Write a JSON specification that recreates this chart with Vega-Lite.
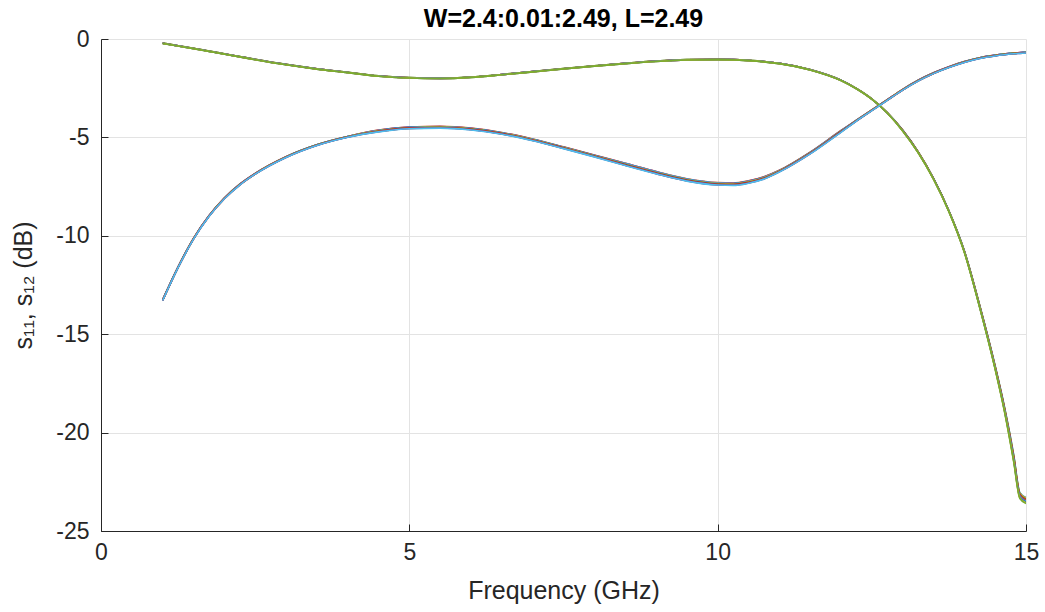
{
  "$schema": "https://vega.github.io/schema/vega-lite/v6.json",
  "width": 925,
  "height": 492,
  "autosize": {"type": "none"},
  "padding": {"left": 101, "top": 39, "right": 19, "bottom": 81},
  "background": "white",
  "title": {"text": "W=2.4:0.01:2.49, L=2.49", "font": "Liberation Sans", "fontSize": 25, "fontWeight": "bold", "color": "#000000", "offset": -4},
  "config": {
    "view": {"stroke": null},
    "axis": {
      "labelFont": "Liberation Sans", "labelFontSize": 23, "labelColor": "#262626",
      "titleFont": "Liberation Sans", "titleFontSize": 25, "titleColor": "#262626", "titleFontWeight": "normal",
      "domainColor": "#262626", "domainWidth": 1, "tickColor": "#262626", "tickSize": -7, "tickWidth": 1,
      "gridColor": "#e3e3e3", "gridWidth": 1,
      "labelExpr": "replace(datum.label, '−', '-')"
    }
  },
  "data": {"values": [
    {"f":1,"b0":-13.25,"b1":-13.25,"b2":-13.26,"b3":-13.26,"b4":-13.27,"b5":-13.27,"b6":-13.28,"b7":-13.28,"b8":-13.29,"b9":-13.29,"a0":-0.21,"a1":-0.21,"a2":-0.21,"a3":-0.22,"a4":-0.22,"a5":-0.22,"a6":-0.22,"a7":-0.23,"a8":-0.23,"a9":-0.23},
    {"f":1.25,"b0":-11.58,"b1":-11.58,"b2":-11.59,"b3":-11.59,"b4":-11.6,"b5":-11.6,"b6":-11.61,"b7":-11.61,"b8":-11.62,"b9":-11.62,"a0":-0.34,"a1":-0.34,"a2":-0.34,"a3":-0.35,"a4":-0.35,"a5":-0.35,"a6":-0.35,"a7":-0.36,"a8":-0.36,"a9":-0.36},
    {"f":1.5,"b0":-10.13,"b1":-10.13,"b2":-10.14,"b3":-10.14,"b4":-10.15,"b5":-10.15,"b6":-10.16,"b7":-10.16,"b8":-10.17,"b9":-10.17,"a0":-0.47,"a1":-0.47,"a2":-0.47,"a3":-0.48,"a4":-0.48,"a5":-0.48,"a6":-0.48,"a7":-0.49,"a8":-0.49,"a9":-0.49},
    {"f":1.75,"b0":-8.98,"b1":-8.98,"b2":-8.99,"b3":-8.99,"b4":-9.0,"b5":-9.0,"b6":-9.01,"b7":-9.01,"b8":-9.02,"b9":-9.02,"a0":-0.61,"a1":-0.61,"a2":-0.61,"a3":-0.62,"a4":-0.62,"a5":-0.62,"a6":-0.62,"a7":-0.63,"a8":-0.63,"a9":-0.63},
    {"f":2,"b0":-8.08,"b1":-8.08,"b2":-8.09,"b3":-8.09,"b4":-8.1,"b5":-8.1,"b6":-8.11,"b7":-8.11,"b8":-8.12,"b9":-8.12,"a0":-0.75,"a1":-0.75,"a2":-0.75,"a3":-0.76,"a4":-0.76,"a5":-0.76,"a6":-0.76,"a7":-0.77,"a8":-0.77,"a9":-0.77},
    {"f":2.25,"b0":-7.38,"b1":-7.38,"b2":-7.39,"b3":-7.39,"b4":-7.4,"b5":-7.4,"b6":-7.41,"b7":-7.41,"b8":-7.42,"b9":-7.42,"a0":-0.89,"a1":-0.89,"a2":-0.89,"a3":-0.9,"a4":-0.9,"a5":-0.9,"a6":-0.9,"a7":-0.91,"a8":-0.91,"a9":-0.91},
    {"f":2.5,"b0":-6.83,"b1":-6.83,"b2":-6.84,"b3":-6.84,"b4":-6.85,"b5":-6.85,"b6":-6.86,"b7":-6.86,"b8":-6.87,"b9":-6.87,"a0":-1.03,"a1":-1.03,"a2":-1.03,"a3":-1.04,"a4":-1.04,"a5":-1.04,"a6":-1.04,"a7":-1.05,"a8":-1.05,"a9":-1.05},
    {"f":3,"b0":-5.98,"b1":-5.98,"b2":-5.99,"b3":-5.99,"b4":-6.0,"b5":-6.0,"b6":-6.01,"b7":-6.01,"b8":-6.02,"b9":-6.02,"a0":-1.29,"a1":-1.29,"a2":-1.29,"a3":-1.3,"a4":-1.3,"a5":-1.3,"a6":-1.3,"a7":-1.31,"a8":-1.31,"a9":-1.31},
    {"f":3.5,"b0":-5.37,"b1":-5.37,"b2":-5.38,"b3":-5.38,"b4":-5.39,"b5":-5.39,"b6":-5.4,"b7":-5.4,"b8":-5.41,"b9":-5.41,"a0":-1.51,"a1":-1.51,"a2":-1.51,"a3":-1.52,"a4":-1.52,"a5":-1.52,"a6":-1.52,"a7":-1.53,"a8":-1.53,"a9":-1.53},
    {"f":4,"b0":-4.95,"b1":-4.95,"b2":-4.96,"b3":-4.96,"b4":-4.97,"b5":-4.97,"b6":-4.98,"b7":-4.98,"b8":-4.99,"b9":-4.99,"a0":-1.69,"a1":-1.69,"a2":-1.69,"a3":-1.7,"a4":-1.7,"a5":-1.7,"a6":-1.7,"a7":-1.71,"a8":-1.71,"a9":-1.71},
    {"f":4.5,"b0":-4.63,"b1":-4.64,"b2":-4.65,"b3":-4.66,"b4":-4.67,"b5":-4.68,"b6":-4.69,"b7":-4.7,"b8":-4.71,"b9":-4.72,"a0":-1.87,"a1":-1.87,"a2":-1.87,"a3":-1.88,"a4":-1.88,"a5":-1.88,"a6":-1.88,"a7":-1.89,"a8":-1.89,"a9":-1.89},
    {"f":5,"b0":-4.47,"b1":-4.48,"b2":-4.49,"b3":-4.5,"b4":-4.51,"b5":-4.52,"b6":-4.53,"b7":-4.54,"b8":-4.55,"b9":-4.56,"a0":-1.96,"a1":-1.96,"a2":-1.96,"a3":-1.97,"a4":-1.97,"a5":-1.97,"a6":-1.97,"a7":-1.98,"a8":-1.98,"a9":-1.98},
    {"f":5.5,"b0":-4.44,"b1":-4.45,"b2":-4.46,"b3":-4.47,"b4":-4.48,"b5":-4.49,"b6":-4.5,"b7":-4.51,"b8":-4.52,"b9":-4.53,"a0":-1.99,"a1":-1.99,"a2":-1.99,"a3":-2.0,"a4":-2.0,"a5":-2.0,"a6":-2.0,"a7":-2.01,"a8":-2.01,"a9":-2.01},
    {"f":6,"b0":-4.53,"b1":-4.54,"b2":-4.55,"b3":-4.56,"b4":-4.57,"b5":-4.58,"b6":-4.59,"b7":-4.6,"b8":-4.61,"b9":-4.62,"a0":-1.93,"a1":-1.93,"a2":-1.93,"a3":-1.94,"a4":-1.94,"a5":-1.94,"a6":-1.94,"a7":-1.95,"a8":-1.95,"a9":-1.95},
    {"f":6.5,"b0":-4.75,"b1":-4.76,"b2":-4.77,"b3":-4.78,"b4":-4.79,"b5":-4.8,"b6":-4.81,"b7":-4.82,"b8":-4.83,"b9":-4.84,"a0":-1.8,"a1":-1.8,"a2":-1.8,"a3":-1.81,"a4":-1.81,"a5":-1.81,"a6":-1.81,"a7":-1.82,"a8":-1.82,"a9":-1.82},
    {"f":7,"b0":-5.08,"b1":-5.09,"b2":-5.1,"b3":-5.11,"b4":-5.12,"b5":-5.13,"b6":-5.14,"b7":-5.15,"b8":-5.16,"b9":-5.17,"a0":-1.65,"a1":-1.65,"a2":-1.65,"a3":-1.66,"a4":-1.66,"a5":-1.66,"a6":-1.66,"a7":-1.67,"a8":-1.67,"a9":-1.67},
    {"f":7.5,"b0":-5.48,"b1":-5.49,"b2":-5.5,"b3":-5.51,"b4":-5.52,"b5":-5.53,"b6":-5.54,"b7":-5.55,"b8":-5.56,"b9":-5.57,"a0":-1.5,"a1":-1.5,"a2":-1.5,"a3":-1.51,"a4":-1.51,"a5":-1.51,"a6":-1.51,"a7":-1.52,"a8":-1.52,"a9":-1.52},
    {"f":8,"b0":-5.9,"b1":-5.91,"b2":-5.92,"b3":-5.93,"b4":-5.94,"b5":-5.95,"b6":-5.96,"b7":-5.97,"b8":-5.98,"b9":-5.99,"a0":-1.36,"a1":-1.36,"a2":-1.36,"a3":-1.37,"a4":-1.37,"a5":-1.37,"a6":-1.37,"a7":-1.38,"a8":-1.38,"a9":-1.38},
    {"f":8.5,"b0":-6.31,"b1":-6.32,"b2":-6.33,"b3":-6.35,"b4":-6.36,"b5":-6.38,"b6":-6.39,"b7":-6.41,"b8":-6.42,"b9":-6.43,"a0":-1.23,"a1":-1.23,"a2":-1.23,"a3":-1.24,"a4":-1.24,"a5":-1.24,"a6":-1.24,"a7":-1.25,"a8":-1.25,"a9":-1.25},
    {"f":9,"b0":-6.73,"b1":-6.74,"b2":-6.75,"b3":-6.77,"b4":-6.78,"b5":-6.8,"b6":-6.81,"b7":-6.83,"b8":-6.84,"b9":-6.85,"a0":-1.12,"a1":-1.12,"a2":-1.12,"a3":-1.13,"a4":-1.13,"a5":-1.13,"a6":-1.13,"a7":-1.14,"a8":-1.14,"a9":-1.14},
    {"f":9.5,"b0":-7.1,"b1":-7.11,"b2":-7.12,"b3":-7.14,"b4":-7.15,"b5":-7.17,"b6":-7.18,"b7":-7.2,"b8":-7.21,"b9":-7.22,"a0":-1.05,"a1":-1.05,"a2":-1.05,"a3":-1.06,"a4":-1.06,"a5":-1.06,"a6":-1.06,"a7":-1.07,"a8":-1.07,"a9":-1.07},
    {"f":10,"b0":-7.3,"b1":-7.31,"b2":-7.32,"b3":-7.34,"b4":-7.35,"b5":-7.37,"b6":-7.38,"b7":-7.4,"b8":-7.41,"b9":-7.42,"a0":-1.03,"a1":-1.03,"a2":-1.03,"a3":-1.04,"a4":-1.04,"a5":-1.04,"a6":-1.04,"a7":-1.05,"a8":-1.05,"a9":-1.05},
    {"f":10.25,"b0":-7.32,"b1":-7.33,"b2":-7.34,"b3":-7.36,"b4":-7.37,"b5":-7.39,"b6":-7.4,"b7":-7.42,"b8":-7.43,"b9":-7.44,"a0":-1.04,"a1":-1.04,"a2":-1.04,"a3":-1.05,"a4":-1.05,"a5":-1.05,"a6":-1.05,"a7":-1.06,"a8":-1.06,"a9":-1.06},
    {"f":10.5,"b0":-7.21,"b1":-7.22,"b2":-7.23,"b3":-7.25,"b4":-7.26,"b5":-7.28,"b6":-7.29,"b7":-7.31,"b8":-7.32,"b9":-7.33,"a0":-1.08,"a1":-1.08,"a2":-1.08,"a3":-1.09,"a4":-1.09,"a5":-1.09,"a6":-1.09,"a7":-1.1,"a8":-1.1,"a9":-1.1},
    {"f":10.75,"b0":-7.0,"b1":-7.01,"b2":-7.02,"b3":-7.04,"b4":-7.05,"b5":-7.07,"b6":-7.08,"b7":-7.1,"b8":-7.11,"b9":-7.12,"a0":-1.14,"a1":-1.14,"a2":-1.14,"a3":-1.15,"a4":-1.15,"a5":-1.15,"a6":-1.15,"a7":-1.16,"a8":-1.16,"a9":-1.16},
    {"f":11,"b0":-6.67,"b1":-6.68,"b2":-6.69,"b3":-6.7,"b4":-6.71,"b5":-6.72,"b6":-6.73,"b7":-6.74,"b8":-6.75,"b9":-6.76,"a0":-1.23,"a1":-1.23,"a2":-1.23,"a3":-1.24,"a4":-1.24,"a5":-1.24,"a6":-1.24,"a7":-1.25,"a8":-1.25,"a9":-1.25},
    {"f":11.5,"b0":-5.75,"b1":-5.76,"b2":-5.77,"b3":-5.78,"b4":-5.79,"b5":-5.8,"b6":-5.81,"b7":-5.82,"b8":-5.83,"b9":-5.84,"a0":-1.55,"a1":-1.55,"a2":-1.55,"a3":-1.56,"a4":-1.56,"a5":-1.56,"a6":-1.56,"a7":-1.57,"a8":-1.57,"a9":-1.57},
    {"f":12,"b0":-4.65,"b1":-4.66,"b2":-4.67,"b3":-4.68,"b4":-4.69,"b5":-4.7,"b6":-4.71,"b7":-4.72,"b8":-4.73,"b9":-4.74,"a0":-2.09,"a1":-2.09,"a2":-2.09,"a3":-2.1,"a4":-2.1,"a5":-2.1,"a6":-2.1,"a7":-2.11,"a8":-2.11,"a9":-2.11},
    {"f":12.25,"b0":-4.13,"b1":-4.13,"b2":-4.14,"b3":-4.14,"b4":-4.15,"b5":-4.15,"b6":-4.16,"b7":-4.16,"b8":-4.17,"b9":-4.17,"a0":-2.51,"a1":-2.51,"a2":-2.51,"a3":-2.52,"a4":-2.52,"a5":-2.52,"a6":-2.52,"a7":-2.53,"a8":-2.53,"a9":-2.53},
    {"f":12.5,"b0":-3.6,"b1":-3.6,"b2":-3.61,"b3":-3.61,"b4":-3.62,"b5":-3.62,"b6":-3.63,"b7":-3.63,"b8":-3.64,"b9":-3.64,"a0":-3.04,"a1":-3.04,"a2":-3.04,"a3":-3.05,"a4":-3.05,"a5":-3.05,"a6":-3.05,"a7":-3.06,"a8":-3.06,"a9":-3.06},
    {"f":12.75,"b0":-3.08,"b1":-3.08,"b2":-3.09,"b3":-3.09,"b4":-3.1,"b5":-3.1,"b6":-3.11,"b7":-3.11,"b8":-3.12,"b9":-3.12,"a0":-3.74,"a1":-3.74,"a2":-3.74,"a3":-3.75,"a4":-3.75,"a5":-3.75,"a6":-3.75,"a7":-3.76,"a8":-3.76,"a9":-3.76},
    {"f":13,"b0":-2.56,"b1":-2.56,"b2":-2.57,"b3":-2.57,"b4":-2.58,"b5":-2.58,"b6":-2.59,"b7":-2.59,"b8":-2.6,"b9":-2.6,"a0":-4.63,"a1":-4.63,"a2":-4.64,"a3":-4.64,"a4":-4.65,"a5":-4.65,"a6":-4.66,"a7":-4.66,"a8":-4.67,"a9":-4.67},
    {"f":13.25,"b0":-2.1,"b1":-2.1,"b2":-2.11,"b3":-2.11,"b4":-2.12,"b5":-2.12,"b6":-2.13,"b7":-2.13,"b8":-2.14,"b9":-2.14,"a0":-5.73,"a1":-5.73,"a2":-5.74,"a3":-5.74,"a4":-5.75,"a5":-5.75,"a6":-5.76,"a7":-5.76,"a8":-5.77,"a9":-5.77},
    {"f":13.5,"b0":-1.72,"b1":-1.72,"b2":-1.73,"b3":-1.73,"b4":-1.74,"b5":-1.74,"b6":-1.75,"b7":-1.75,"b8":-1.76,"b9":-1.76,"a0":-7.08,"a1":-7.08,"a2":-7.09,"a3":-7.09,"a4":-7.1,"a5":-7.1,"a6":-7.11,"a7":-7.11,"a8":-7.12,"a9":-7.12},
    {"f":13.75,"b0":-1.41,"b1":-1.41,"b2":-1.42,"b3":-1.42,"b4":-1.43,"b5":-1.43,"b6":-1.44,"b7":-1.44,"b8":-1.45,"b9":-1.45,"a0":-8.73,"a1":-8.73,"a2":-8.74,"a3":-8.74,"a4":-8.75,"a5":-8.75,"a6":-8.76,"a7":-8.76,"a8":-8.77,"a9":-8.77},
    {"f":14,"b0":-1.15,"b1":-1.15,"b2":-1.16,"b3":-1.16,"b4":-1.17,"b5":-1.17,"b6":-1.18,"b7":-1.18,"b8":-1.19,"b9":-1.19,"a0":-10.76,"a1":-10.77,"a2":-10.78,"a3":-10.79,"a4":-10.8,"a5":-10.8,"a6":-10.81,"a7":-10.82,"a8":-10.83,"a9":-10.84},
    {"f":14.25,"b0":-0.95,"b1":-0.95,"b2":-0.96,"b3":-0.96,"b4":-0.97,"b5":-0.97,"b6":-0.98,"b7":-0.98,"b8":-0.99,"b9":-0.99,"a0":-13.54,"a1":-13.55,"a2":-13.56,"a3":-13.58,"a4":-13.59,"a5":-13.61,"a6":-13.62,"a7":-13.64,"a8":-13.65,"a9":-13.66},
    {"f":14.5,"b0":-0.82,"b1":-0.82,"b2":-0.83,"b3":-0.83,"b4":-0.84,"b5":-0.84,"b6":-0.85,"b7":-0.85,"b8":-0.86,"b9":-0.86,"a0":-16.61,"a1":-16.63,"a2":-16.65,"a3":-16.67,"a4":-16.69,"a5":-16.71,"a6":-16.73,"a7":-16.75,"a8":-16.77,"a9":-16.79},
    {"f":14.65,"b0":-0.76,"b1":-0.76,"b2":-0.77,"b3":-0.77,"b4":-0.78,"b5":-0.78,"b6":-0.79,"b7":-0.79,"b8":-0.8,"b9":-0.8,"a0":-18.68,"a1":-18.71,"a2":-18.73,"a3":-18.76,"a4":-18.79,"a5":-18.81,"a6":-18.84,"a7":-18.87,"a8":-18.89,"a9":-18.92},
    {"f":14.8,"b0":-0.71,"b1":-0.71,"b2":-0.72,"b3":-0.72,"b4":-0.73,"b5":-0.73,"b6":-0.74,"b7":-0.74,"b8":-0.75,"b9":-0.75,"a0":-21.12,"a1":-21.16,"a2":-21.2,"a3":-21.24,"a4":-21.28,"a5":-21.32,"a6":-21.36,"a7":-21.4,"a8":-21.44,"a9":-21.48},
    {"f":14.9,"b0":-0.69,"b1":-0.69,"b2":-0.7,"b3":-0.7,"b4":-0.71,"b5":-0.71,"b6":-0.72,"b7":-0.72,"b8":-0.73,"b9":-0.73,"a0":-23.05,"a1":-23.08,"a2":-23.12,"a3":-23.15,"a4":-23.18,"a5":-23.22,"a6":-23.25,"a7":-23.28,"a8":-23.32,"a9":-23.35},
    {"f":15,"b0":-0.67,"b1":-0.67,"b2":-0.68,"b3":-0.68,"b4":-0.69,"b5":-0.69,"b6":-0.7,"b7":-0.7,"b8":-0.71,"b9":-0.71,"a0":-23.3,"a1":-23.33,"a2":-23.37,"a3":-23.4,"a4":-23.43,"a5":-23.47,"a6":-23.5,"a7":-23.53,"a8":-23.57,"a9":-23.6}
  ]},
  "transform": [
    {"fold": ["a0","b0","a1","b1","a2","b2","a3","b3","a4","b4","a5","b5","a6","b6","a7","b7","a8","b8","a9","b9"], "as": ["k", "v"]}
  ],
  "mark": {"type": "line", "strokeWidth": 1.6, "interpolate": "monotone", "clip": true},
  "encoding": {
    "x": {
      "field": "f", "type": "quantitative",
      "scale": {"domain": [0, 15], "nice": false, "zero": false},
      "axis": {"values": [0, 5, 10, 15], "title": "Frequency (GHz)", "labelPadding": 17, "titlePadding": 14, "labelFlush": false, "labelOverlap": false}
    },
    "y": {
      "field": "v", "type": "quantitative",
      "scale": {"domain": [-25, 0], "nice": false},
      "axis": {"values": [-25, -20, -15, -10, -5, 0], "title": "s₁₁, s₁₂ (dB)", "labelPadding": 19, "titlePadding": 19, "labelFlush": false, "labelOverlap": false}
    },
    "color": {
      "field": "k", "type": "nominal", "legend": null,
      "scale": {
        "domain": ["a0","b0","a1","b1","a2","b2","a3","b3","a4","b4","a5","b5","a6","b6","a7","b7","a8","b8","a9","b9"],
        "range": ["#0072BD","#D95319","#EDB120","#7E2F8E","#77AC30","#4DBEEE","#A2142F","#0072BD","#D95319","#EDB120","#7E2F8E","#77AC30","#4DBEEE","#A2142F","#0072BD","#D95319","#EDB120","#7E2F8E","#77AC30","#4DBEEE"]
      }
    }
  }
}
